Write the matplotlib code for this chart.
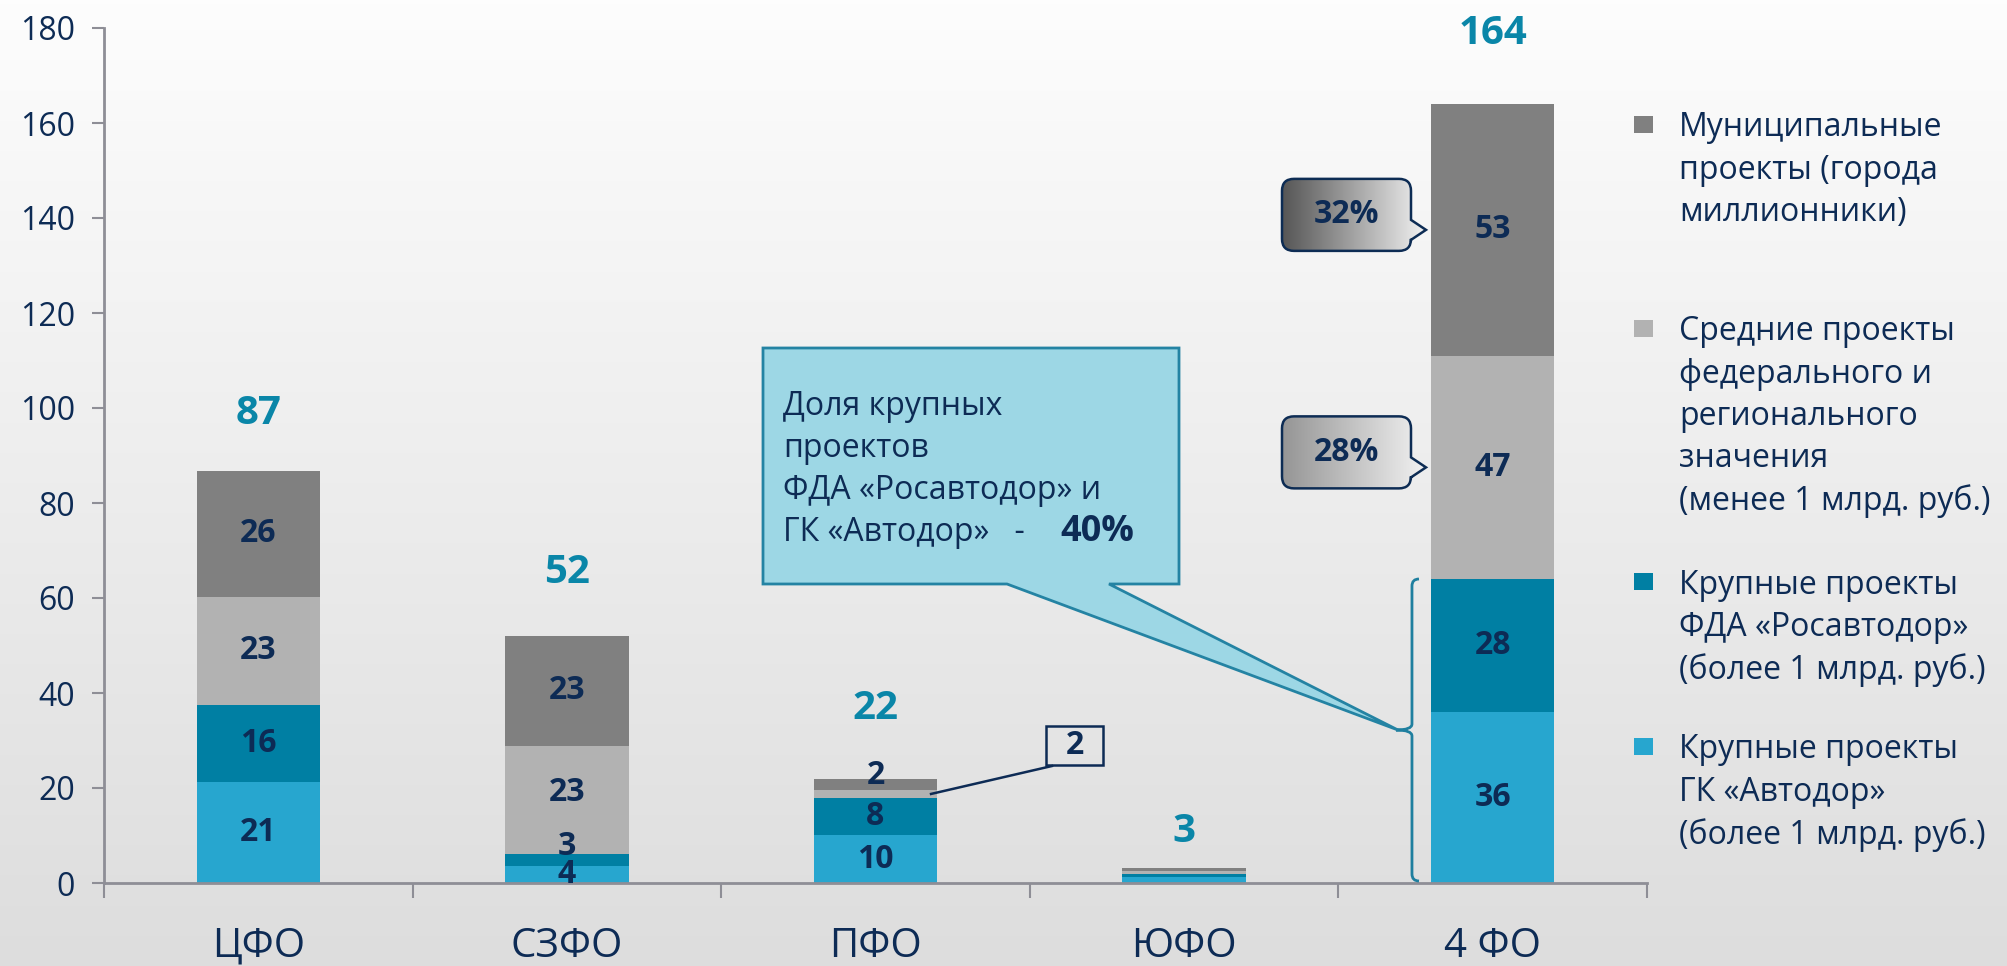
import numpy as np
import matplotlib
matplotlib.use("Agg")
import matplotlib.pyplot as plt
from matplotlib.path import Path
from matplotlib.patches import PathPatch, Rectangle, Polygon
from matplotlib.colors import LinearSegmentedColormap

plt.rcParams['font.family'] = ['Open Sans', 'DejaVu Sans']

# ---------------- data ----------------
categories = ['ЦФО', 'СЗФО', 'ПФО', 'ЮФО', '4 ФО']
gk_avtodor = [21.3, 3.6, 10.1, 1.2, 36.0]       # Крупные проекты ГК «Автодор»
fda_rosavtodor = [16.2, 2.6, 7.8, 0.8, 28.0]    # Крупные проекты ФДА «Росавтодор»
medium_projects = [22.8, 22.7, 1.7, 0.5, 47.0]  # Средние проекты
municipal = [26.4, 23.2, 2.3, 0.6, 53.0]        # Муниципальные проекты
share_municipal = '32%'
share_medium = '28%'
share_large = '40%'
yticks = [0, 20, 40, 60, 80, 100, 120, 140, 160, 180]

legend_labels = [
    ['Муниципальные', 'проекты (города', 'миллионники)'],
    ['Средние проекты', 'федерального и', 'регионального', 'значения', '(менее 1 млрд. руб.)'],
    ['Крупные проекты', 'ФДА «Росавтодор»', '(более 1 млрд. руб.)'],
    ['Крупные проекты', 'ГК «Автодор»', '(более 1 млрд. руб.)'],
]
callout_lines = ['Доля крупных', 'проектов', 'ФДА «Росавтодор» и', 'ГК «Автодор»   -']

# ---------------- style ----------------
C_GK = '#27a6cf'
C_FDA = '#007fa3'
C_MED = '#b2b2b2'
C_MUN = '#808080'
NAVY = '#0d2b55'
TEAL = '#0a86a8'
AXIS = '#8e8e96'

W, H = 2008, 966
fig = plt.figure(figsize=(W / 100, H / 100), dpi=100)

# background gradient
bg = fig.add_axes([0, 0, 1, 1], zorder=-10)
grad = np.linspace(253, 221, 256)[:, None] / 255.0
bg.imshow(np.dstack([grad, grad, grad]), aspect='auto', extent=[0, 1, 0, 1], origin='upper')
bg.set_axis_off()

ax_l, ax_r, ax_b, ax_t = 104, 1647, 883, 28
ax = fig.add_axes([ax_l / W, 1 - ax_b / H, (ax_r - ax_l) / W, (ax_b - ax_t) / H])
ax.patch.set_alpha(0)

series = [gk_avtodor, fda_rosavtodor, medium_projects, municipal]
colors = [C_GK, C_FDA, C_MED, C_MUN]
x = np.arange(len(categories))
bw = 0.4
bottoms = np.zeros(len(categories))
seg_bottoms = []
for vals, col in zip(series, colors):
    ax.bar(x, vals, bw, bottom=bottoms, color=col, edgecolor='none', zorder=2)
    seg_bottoms.append(bottoms.copy())
    bottoms = bottoms + np.array(vals)
totals = bottoms

ax.set_xlim(-0.5, 4.5)
ax.set_ylim(0, 180)
for s in ['top', 'right']:
    ax.spines[s].set_visible(False)
for s in ['left', 'bottom']:
    ax.spines[s].set_color(AXIS)
    ax.spines[s].set_linewidth(2)
ax.set_yticks(yticks)
ax.tick_params(axis='y', direction='out', length=9, width=1.5, color=AXIS,
               labelsize=23, labelcolor=NAVY, pad=12)
ax.set_xticks(x)
ax.set_xticklabels(categories)
ax.tick_params(axis='x', which='major', length=0, labelsize=29, labelcolor=NAVY, pad=31)
ax.set_xticks(np.arange(-0.5, 5, 1), minor=True)
ax.tick_params(axis='x', which='minor', direction='out', length=11, width=1.5, color=AXIS)

# segment labels
skip = {(2, 2)} | {(i, 3) for i in range(4)}
shift_px = {(1, 1): 13, (2, 1): 7, (3, 2): 9}
pt_per_px = 72 / 100
for si, vals in enumerate(series):
    for ci, v in enumerate(vals):
        if (si, ci) in skip:
            continue
        yc = seg_bottoms[si][ci] + v / 2
        dy = shift_px.get((si, ci), 0) * pt_per_px
        ax.annotate(f'{round(v)}', (ci, yc), xytext=(0, dy), textcoords='offset points',
                    ha='center', va='center', fontsize=23, fontweight='bold', color=NAVY, zorder=4)

# total labels
total_offset_px = [58, 63, 70, 37, 71]
for ci, t in enumerate(totals):
    ax.annotate(f'{round(t)}', (ci, t), xytext=(0, total_offset_px[ci] * pt_per_px),
                textcoords='offset points', ha='center', va='center',
                fontsize=29, fontweight='bold', color=TEAL)

# ---------------- overlay in pixel coords ----------------
ov = fig.add_axes([0, 0, 1, 1], zorder=5)
ov.patch.set_alpha(0)
ov.set_axis_off()
ov.set_xlim(0, W)
ov.set_ylim(H, 0)


def d2p(xd, yd):
    disp = ax.transData.transform((xd, yd))
    return ov.transData.inverted().transform(disp)


# small callout for ПФО medium segment
pt_med = d2p(2 + bw / 2 - 0.02, seg_bottoms[2][2] + medium_projects[2] / 2)
ov.plot([pt_med[0], 1052], [pt_med[1], 766], color=NAVY, lw=1.8, zorder=6)
ov.add_patch(Rectangle((1046, 726), 57, 39, fill=False, edgecolor=NAVY, lw=1.8, zorder=6))
ov.text(1074.5, 746, f'{round(medium_projects[2])}', ha='center', va='center',
        fontsize=23, fontweight='bold', color=NAVY, zorder=7)

# brace next to 4 ФО large projects
bar_left = d2p(4 - bw / 2, 0)[0]
x_line = bar_left - 19
y_top = d2p(4, gk_avtodor[4] + fda_rosavtodor[4])[1]
y_bot = d2p(4, 0)[1] - 2
y_mid = (y_top + y_bot) / 2
tip = (x_line - 16, y_mid)
verts = [(x_line + 7, y_top), (x_line, y_top), (x_line, y_top + 7), (x_line, y_mid - 6),
         (x_line, y_mid), tip,
         tip, (x_line, y_mid), (x_line, y_mid + 6), (x_line, y_bot - 7),
         (x_line, y_bot), (x_line + 7, y_bot)]
codes = [Path.MOVETO, Path.CURVE3, Path.CURVE3, Path.LINETO, Path.CURVE3, Path.CURVE3,
         Path.MOVETO, Path.CURVE3, Path.CURVE3, Path.LINETO, Path.CURVE3, Path.CURVE3]
ov.add_patch(PathPatch(Path(verts, codes), fill=False, edgecolor='#1f7f9f', lw=2, zorder=6))

# big cyan callout
bx0, bx1, by0, by1 = 763, 1179, 348, 584
poly = [(bx0, by0), (bx1, by0), (bx1, by1), (1109, by1), (tip[0] + 2, tip[1]), (1007, by1), (bx0, by1)]
ov.add_patch(Polygon(poly, closed=True, facecolor='#9dd7e5', edgecolor='#2483a3', lw=2, zorder=6))
for i, line in enumerate(callout_lines):
    ov.text(783, 415 + i * 42, line, ha='left', va='baseline', fontsize=23, color=NAVY, zorder=7)
ov.text(1060, 541, share_large, ha='left', va='baseline', fontsize=26, fontweight='bold',
        color=NAVY, zorder=7)


# gray gradient callouts
def gray_callout(yval, label, left_gray):
    tx, ty = d2p(4 - bw / 2, yval)
    tx -= 5
    x0, x1 = 1282, 1411
    cy = ty - 15
    y0, y1 = cy - 36, cy + 36
    r = 12
    v = [(x0 + r, y0), (x1 - r, y0), (x1, y0), (x1, y0 + r), (x1, ty - 10), (tx, ty),
         (x1, ty + 10), (x1, y1 - r), (x1, y1), (x1 - r, y1), (x0 + r, y1), (x0, y1),
         (x0, y1 - r), (x0, y0 + r), (x0, y0), (x0 + r, y0), (x0 + r, y0)]
    c = [Path.MOVETO, Path.LINETO, Path.CURVE3, Path.CURVE3, Path.LINETO, Path.LINETO,
         Path.LINETO, Path.LINETO, Path.CURVE3, Path.CURVE3, Path.LINETO, Path.CURVE3,
         Path.CURVE3, Path.LINETO, Path.CURVE3, Path.CURVE3, Path.CLOSEPOLY]
    patch = PathPatch(Path(v, c), facecolor='none', edgecolor='#0d2c54', lw=1.8, zorder=7)
    ov.add_patch(patch)
    cmap = LinearSegmentedColormap.from_list('g', [left_gray, '#f2f2f2'])
    g = np.linspace(0, 1, 256)[None, :]
    im = ov.imshow(g, cmap=cmap, extent=[x0, tx, y1, y0], aspect='auto', zorder=6)
    im.set_clip_path(patch)
    ov.text((x0 + x1) / 2, cy, label, ha='center', va='center', fontsize=23,
            fontweight='bold', color=NAVY, zorder=8)


gray_callout(seg_bottoms[3][4] + municipal[4] / 2, share_municipal, '#555555')
gray_callout(seg_bottoms[2][4] + medium_projects[4] / 2, share_medium, '#959595')

# legend
legend_colors = [C_MUN, C_MED, C_FDA, C_GK]
sq_y = [125, 329, 582, 747]
for lines, col, sy in zip(legend_labels, legend_colors, sq_y):
    ov.add_patch(Rectangle((1634, sy - 9), 19, 17, facecolor=col, edgecolor='none', zorder=6))
    for i, line in enumerate(lines):
        ov.text(1679, sy + 3 + i * 42.3, line, ha='left', va='center', fontsize=23,
                color=NAVY, zorder=7)

ov.set_xlim(0, W)
ov.set_ylim(H, 0)
fig.savefig('out.png', dpi=100)
